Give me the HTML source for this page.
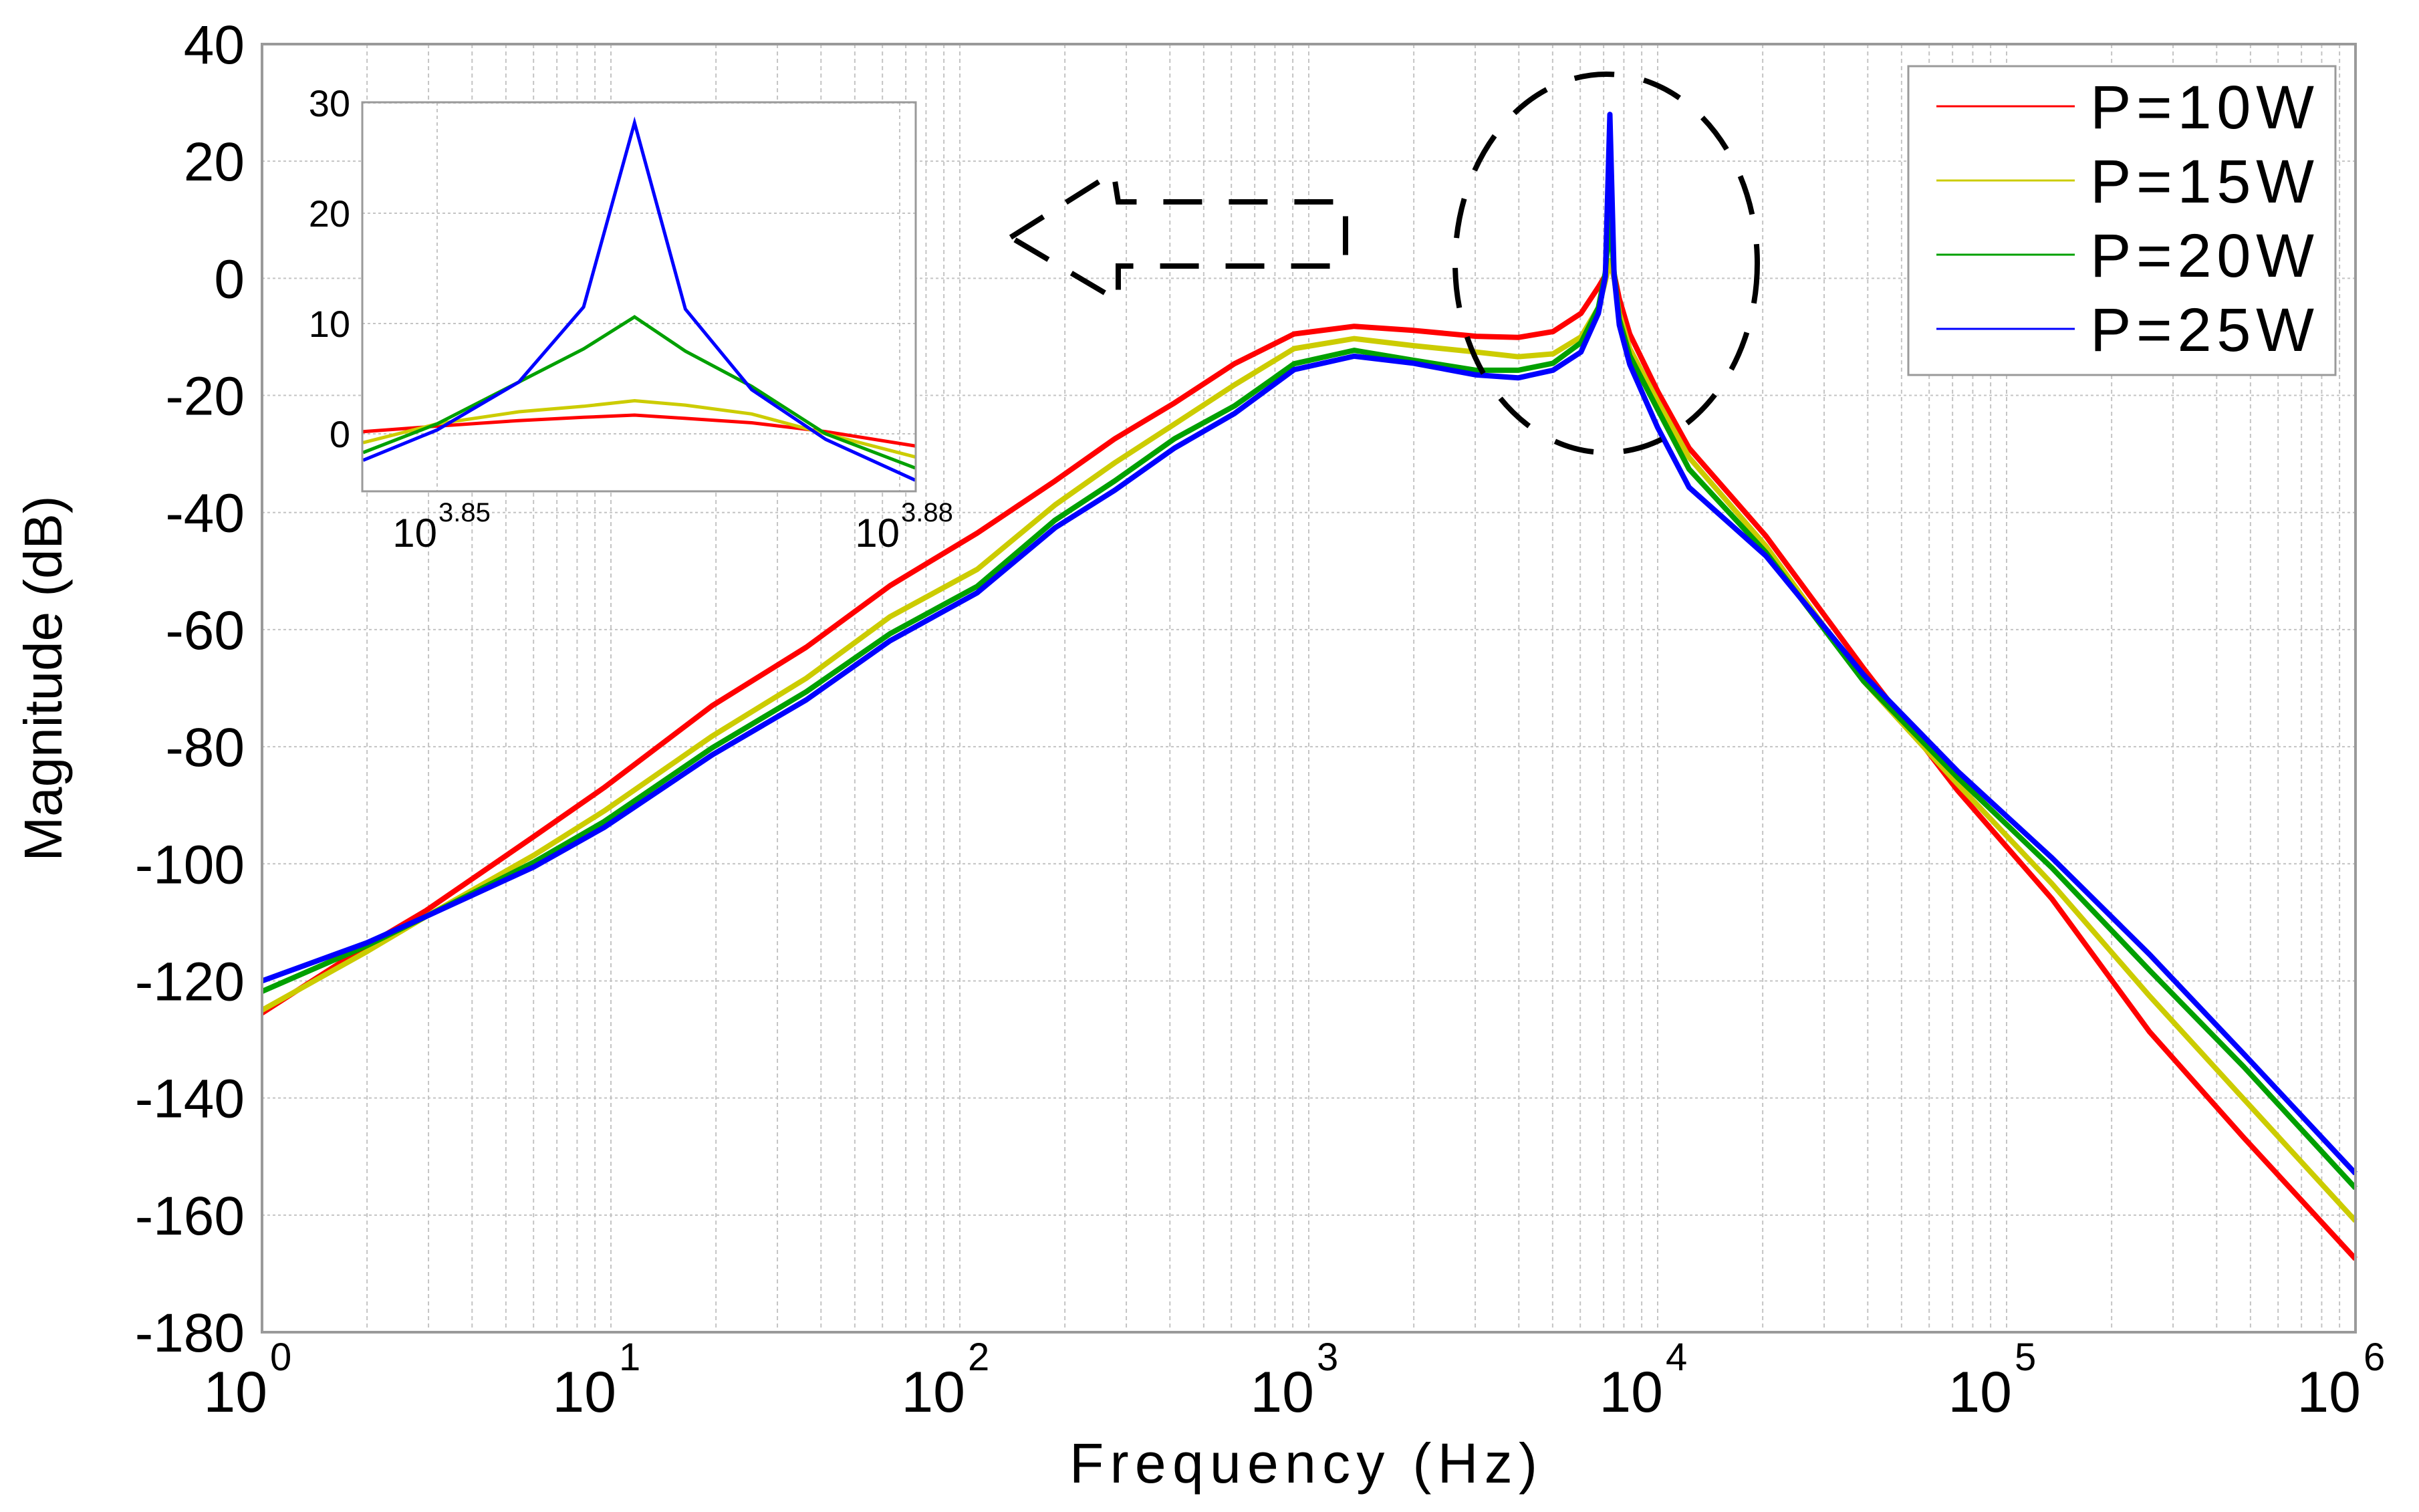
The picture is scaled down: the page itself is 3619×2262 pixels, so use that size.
<!DOCTYPE html>
<html><head><meta charset="utf-8">
<style>
html,body{margin:0;padding:0;background:#fff;}
svg{display:block;font-family:"Liberation Sans",Arial,sans-serif;}
</style></head>
<body>
<svg id="chart" width="3619" height="2262" viewBox="0 0 3619 2262" xmlns="http://www.w3.org/2000/svg">
<rect x="0" y="0" width="3619" height="2262" fill="#fff"/>
<g id="grid"></g>
<g id="series"></g>
<rect x="392" y="66" width="3132" height="1927" fill="none" stroke="#9a9a9a" stroke-width="4"/>
<g id="yticks"></g>
<g id="xticks"></g>
<text x="1950" y="2218" font-size="84" text-anchor="middle" textLength="700">Frequency  (Hz)</text>
<text x="0" y="0" font-size="80" text-anchor="middle" transform="translate(92,1015) rotate(-90)">Magnitude (dB)</text>
<path d="M1512,355 L1666,258 L1673,302 L2013,302 L2013,398 L1673,398 L1673,450 Z" fill="none" stroke="#000" stroke-width="8" stroke-dasharray="58,40"/>
<ellipse cx="2403" cy="394" rx="226" ry="283" fill="none" stroke="#000" stroke-width="8" stroke-dasharray="60,45"/>
<g>
<rect x="2855" y="99" width="639" height="462" fill="#fff" stroke="#9a9a9a" stroke-width="3"/>
<g id="legendEntries"></g>
</g>
<g id="inset"></g>
</svg>
<script>
// main chart data (log10 frequency)
const logF = [0, 0.3, 0.47, 0.78, 0.98, 1.29, 1.56, 1.8, 2.05, 2.273, 2.444, 2.615, 2.787, 2.958, 3.13, 3.3, 3.48, 3.6, 3.7, 3.78, 3.83, 3.85, 3.863, 3.875, 3.89, 3.92, 4.0, 4.09, 4.31, 4.59, 4.86, 5.13, 5.41, 5.68, 6.0];
const p10 = [-125.5,-114,-108,-95.3,-87,-73,-63,-52.5,-43.5,-34.6,-27.4,-21.3,-14.6,-9.5,-8.2,-8.9,-9.9,-10.1,-9.1,-6,-1.5,0.5,1.7,0.8,-3.5,-9.5,-19.3,-29,-44,-66.6,-87.5,-106,-128.7,-146.8,-167.5];
const p15 = [-125,-115,-109,-98.5,-91,-78.2,-68.3,-57.8,-49.7,-38.7,-31.5,-24.9,-18.2,-12,-10.3,-11.5,-12.6,-13.4,-12.9,-10,-5,-0.5,3,0,-6,-12,-21,-30.6,-45.7,-68.8,-86.4,-103.4,-122.6,-140.2,-161];
const p20 = [-121.8,-114,-109,-99.7,-92.8,-80.2,-70.6,-60.7,-52.6,-41.3,-34.6,-27.4,-21.8,-14.6,-12.3,-14,-15.7,-15.7,-14.5,-11,-5,1,10.5,1,-7,-13.2,-22.4,-32.6,-46.8,-68.8,-85.3,-100.7,-118.2,-134.7,-155.4];
const p25 = [-120,-113.5,-109,-100.5,-93.8,-81.4,-72,-61.9,-53.7,-42.6,-36.2,-29,-23.1,-15.6,-13.3,-14.5,-16.5,-17,-15.7,-12.6,-6,0.3,28,0.5,-8,-14.7,-25.5,-35.7,-47.4,-67.7,-84.2,-99,-115.5,-132.5,-152.9];
const seriesNames = ["P=10W","P=15W","P=20W","P=25W"];
const yTicks = [40,20,0,-20,-40,-60,-80,-100,-120,-140,-160,-180];
const xDecades = [0,1,2,3,4,5,6];
// inset data
const insetLogF = [3.8452,3.85,3.8553,3.8595,3.8628,3.8661,3.8704,3.8752,3.881];
const in10 = [0.2,0.7,1.2,1.5,1.7,1.4,1.0,0.2,-1.1];
const in15 = [-0.8,0.9,2.0,2.5,3.0,2.6,1.8,0,-2.1];
const in20 = [-1.7,0.9,4.7,7.7,10.6,7.5,4.3,0,-3.1];
const in25 = [-2.4,0.35,4.7,11.5,28.2,11.3,4.0,-0.5,-4.2];
const insetYTicks = [30,20,10,0];
const insetXTicks = ["3.85","3.88"];

const colors = ["#ff0000","#cccc00","#00a000","#0000ff"];
const NS = "http://www.w3.org/2000/svg";
function mk(tag, attrs, parent){ const e=document.createElementNS(NS,tag); for(const k in attrs) e.setAttribute(k,attrs[k]); parent.appendChild(e); return e; }
const X0=392, X1=3524, Y0=66, Y1=1993;
const xs = l => X0 + (l-0)/(6-0)*(X1-X0);
const ys = v => Y0 + (40-v)/(220)*(Y1-Y0);

const grid=document.getElementById('grid');
for(let d=0; d<6; d++){
  for(let m=1; m<=9; m++){
    if(m===1 && d===0) continue;
    const x = xs(d+Math.log10(m));
    const l = mk('line',{x1:x,y1:Y0,x2:x,y2:Y1,stroke:'#c4c4c4','stroke-width':2,'stroke-dasharray':'6,5'},grid);
    
    
  }
}
yTicks.forEach(v=>{
  const y=ys(v);
  const l=mk('line',{x1:X0,y1:y,x2:X1,y2:y,stroke:'#c4c4c4','stroke-width':2,'stroke-dasharray':'4,4'},grid);
  
  
});
const yt=document.getElementById('yticks');
yTicks.forEach(v=>{
  const t=mk('text',{x:366,y:ys(v)+29,'font-size':82,'text-anchor':'end'},yt);
  t.textContent=String(v);
  
  
});
const xt=document.getElementById('xticks');
xDecades.forEach(d=>{
  const x=xs(d);
  const t=mk('text',{x:x+8,y:2112,'font-size':86,'text-anchor':'end'},xt);
  t.textContent='10';
  
  
  const s=mk('text',{x:x+12,y:2050,'font-size':58},xt);
  s.textContent=String(d);
  
  
});
const sg=document.getElementById('series');
[p10,p15,p20,p25].forEach((arr,i)=>{
  const d=arr.map((v,j)=>(j?'L':'M')+xs(logF[j]).toFixed(1)+','+ys(v).toFixed(1)).join(' ');
  const p=mk('path',{d:d,fill:'none',stroke:colors[i],'stroke-width':8,'stroke-linejoin':'round'},sg);
  
  
});
const lg=document.getElementById('legendEntries');
seriesNames.forEach((n,i)=>{
  const y=159+i*111;
  const l=mk('line',{x1:2897,y1:y,x2:3104,y2:y,stroke:colors[i],'stroke-width':3},lg);
  
  
  const t=mk('text',{x:3127,y:y+33,'font-size':92,textLength:335},lg);
  t.textContent=n;
  
  
});
// inset
const IX0=542, IX1=1370, IY0=153, IY1=735;
const ixs = l => 654 + (l-3.85)/0.03*(1346-654);
const iys = v => 649 - v*16.5;
const ins=document.getElementById('inset');
const bg=mk('rect',{x:IX0,y:IY0,width:IX1-IX0,height:IY1-IY0,fill:'#fff'},ins);


insetYTicks.forEach(v=>{
  const y=iys(v);
  const l=mk('line',{x1:IX0,y1:y,x2:IX1,y2:y,stroke:'#c4c4c4','stroke-width':2,'stroke-dasharray':'4,4'},ins);
  
  
  const t=mk('text',{x:524,y:y+20,'font-size':56,'text-anchor':'end'},ins);
  t.textContent=String(v);
  
  
});
insetXTicks.forEach(s=>{
  const x=ixs(parseFloat(s));
  const l=mk('line',{x1:x,y1:IY0,x2:x,y2:IY1,stroke:'#c4c4c4','stroke-width':2,'stroke-dasharray':'5,5'},ins);
  
  
  const t=mk('text',{x:x,y:818,'font-size':60,'text-anchor':'end'},ins);
  t.textContent='10';
  
  
  const e=mk('text',{x:x+2,y:780,'font-size':40},ins);
  e.textContent=s;
  
  
});
[in10,in15,in20,in25].forEach((arr,i)=>{
  const d=arr.map((v,j)=>(j?'L':'M')+ixs(insetLogF[j]).toFixed(1)+','+iys(v).toFixed(1)).join(' ');
  const p=mk('path',{d:d,fill:'none',stroke:colors[i],'stroke-width':5},ins);
  
  
});
const fr=mk('rect',{x:IX0,y:IY0,width:IX1-IX0,height:IY1-IY0,fill:'none',stroke:'#9a9a9a','stroke-width':3},ins);


</script>
</body></html>
